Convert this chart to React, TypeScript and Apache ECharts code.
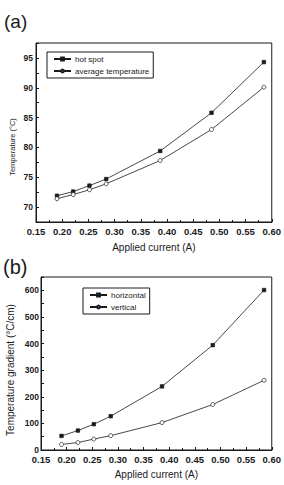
import React, { useEffect, useRef } from "react";
import * as echarts from "echarts";

const currentA = [0.19, 0.221, 0.252, 0.284, 0.387, 0.485, 0.585];
const hotSpot = [71.9, 72.6, 73.6, 74.7, 79.4, 85.8, 94.3];
const averageTemp = [71.4, 72.1, 72.9, 73.9, 77.8, 83.0, 90.1];

const currentB = [0.19, 0.222, 0.253, 0.286, 0.386, 0.485, 0.585];
const horizontal = [53, 73, 97, 127, 239, 394, 601];
const vertical = [21, 28, 41, 54, 103, 171, 262];

const FONT = "Liberation Sans, Arial, sans-serif";
const INK = "#1a1a1a";

const pair = (xs: number[], ys: number[]) => xs.map((x, i) => [x, ys[i]]);

export default function App() {
  const ref = useRef<HTMLDivElement>(null);
  useEffect(() => {
    if (!ref.current) return;
    const chart = echarts.init(ref.current, undefined, { renderer: "svg" });
    const xAxisBase = (gridIndex: number, gap: number) => ({
      type: "value" as const,
      gridIndex,
      min: 0.15,
      max: 0.6,
      interval: 0.05,
      name: "Applied current (A)",
      nameLocation: "middle" as const,
      nameGap: gap,
      nameTextStyle: { fontFamily: FONT, fontSize: 10, color: INK },
      axisLine: { show: true, lineStyle: { color: INK, width: 1 } },
      axisTick: { show: true, inside: true, length: 3, lineStyle: { color: INK } },
      minorTick: { show: true, splitNumber: 2, length: 2, lineStyle: { color: INK } },
      splitLine: { show: false },
      axisLabel: {
        fontFamily: FONT,
        fontSize: 9.5,
        fontWeight: "bold",
        color: INK,
        margin: 4,
        formatter: (v: number) => v.toFixed(2),
      },
    });
    const yAxisBase = (gridIndex: number, min: number, max: number, interval: number, labelStep: number, margin: number) => ({
      type: "value" as const,
      gridIndex,
      min,
      max,
      interval,
      axisLine: { show: true, lineStyle: { color: INK, width: 1 } },
      axisTick: { show: true, inside: true, length: 3, lineStyle: { color: INK } },
      splitLine: { show: false },
      axisLabel: {
        fontFamily: FONT,
        fontSize: 8.5,
        fontWeight: "bold",
        color: INK,
        margin,
        showMinLabel: true,
        showMaxLabel: true,
        formatter: (v: number) => (Math.abs(v / labelStep - Math.round(v / labelStep)) < 1e-6 ? String(Math.round(v)) : ""),
      },
    });
    const lineSeries = (name: string, xi: number, data: number[][], symbol: string, filled: boolean) => ({
      type: "line" as const,
      name,
      xAxisIndex: xi,
      yAxisIndex: xi,
      data,
      symbol,
      symbolSize: filled ? 3.5 : 4,
      showAllSymbol: true,
      lineStyle: { color: INK, width: 0.8 },
      itemStyle: { color: filled ? INK : "#fff", borderColor: INK, borderWidth: 0.7 },
    });
    const legendBase = (data: string[], left: number, top: number) => ({
      data,
      orient: "vertical" as const,
      left,
      top,
      itemWidth: 17,
      itemHeight: 3.5,
      itemGap: 4,
      padding: [3, 4, 3, 6],
      borderColor: INK,
      borderWidth: 1,
      borderRadius: 0,
      textStyle: { fontFamily: FONT, fontSize: 8, color: INK, padding: [0, 0, 0, -1] },
      selectedMode: false,
    });
    chart.setOption({
      animation: false,
      backgroundColor: "#fff",
      grid: [
        { left: 36, top: 43, width: 240, height: 179, show: true, borderColor: INK, borderWidth: 1, backgroundColor: "transparent" },
        { left: 41, top: 277, width: 235, height: 173, show: true, borderColor: INK, borderWidth: 1, backgroundColor: "transparent" },
      ],
      xAxis: [xAxisBase(0, 20), xAxisBase(1, 19)],
      yAxis: [yAxisBase(0, 67.5, 97.5, 2.5, 5, 3), yAxisBase(1, 0, 650, 50, 100, 2)],
      legend: [
        legendBase(["hot spot", "average temperature"], 47, 52),
        legendBase(["horizontal", "vertical"], 83, 288),
      ],
      series: [
        lineSeries("hot spot", 0, pair(currentA, hotSpot), "rect", true),
        lineSeries("average temperature", 0, pair(currentA, averageTemp), "circle", false),
        lineSeries("horizontal", 1, pair(currentB, horizontal), "rect", true),
        lineSeries("vertical", 1, pair(currentB, vertical), "circle", false),
      ],
      graphic: [
        { type: "text", left: 4, top: 12, style: { text: "(a)", fontFamily: FONT, fontSize: 19, fill: INK } },
        { type: "text", left: 3, top: 257, style: { text: "(b)", fontFamily: FONT, fontSize: 20, fill: INK } },
        {
          type: "text",
          x: 12,
          y: 147,
          rotation: Math.PI / 2,
          style: { text: "Temperature (°C)", fontFamily: FONT, fontSize: 7.5, fill: INK, align: "center", verticalAlign: "middle" },
        },
        {
          type: "text",
          x: 10,
          y: 370,
          rotation: Math.PI / 2,
          style: { text: "Temperature gradient (°C/cm)", fontFamily: FONT, fontSize: 10, fill: INK, align: "center", verticalAlign: "middle" },
        },
      ],
    });
    return () => chart.dispose();
  }, []);
  return <div ref={ref} style={{ position: "fixed", left: 0, top: 0, width: 284, height: 485 }} />;
}
